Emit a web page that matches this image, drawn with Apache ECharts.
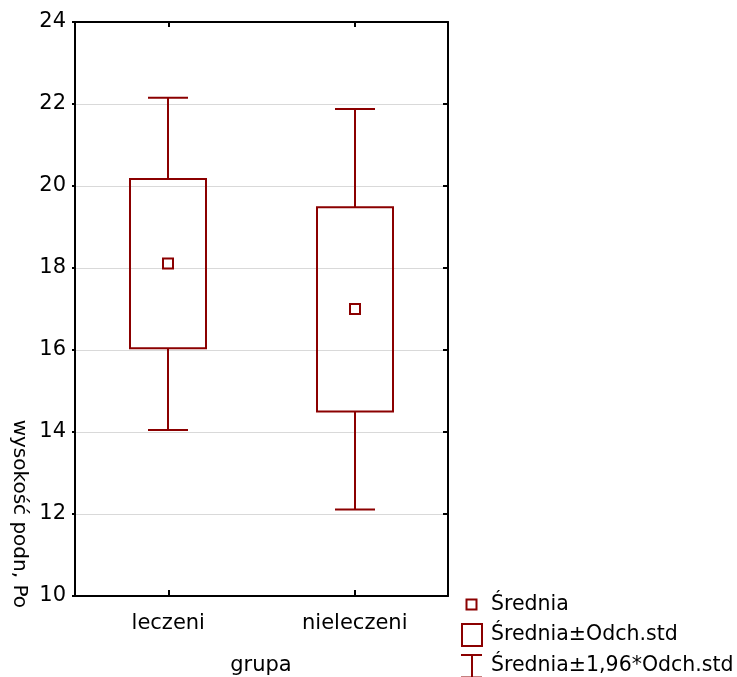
<!DOCTYPE html>
<html>
<head>
<meta charset="utf-8">
<script src="https://cdn.jsdelivr.net/npm/echarts@6/dist/echarts.min.js"></script>
<style>
  html, body { margin: 0; padding: 0; background: #ffffff; }
  #chart { width: 737px; height: 677px; }
</style>
</head>
<body>
<div id="chart"></div>
<script>
// Groups and their summary statistics (wysokość podn, Po)
const groups = ['leczeni', 'nieleczeni'];
const means = [18.11, 17.0];
const sdLow = [16.04, 14.50];    // Średnia - Odch.std
const sdHigh = [20.17, 19.48];   // Średnia + Odch.std
const ciLow = [14.05, 12.11];    // Średnia - 1,96*Odch.std
const ciHigh = [22.15, 21.88];   // Średnia + 1,96*Odch.std

const yMin = 10, yMax = 24, yStep = 2;

const FONT = 'DejaVu Sans';
const RED = '#8b0000';

const seriesData = groups.map((g, i) => [i, means[i], sdLow[i], sdHigh[i], ciLow[i], ciHigh[i]]);

function renderBox(params, api) {
  const idx = api.value(0);
  const cx = Math.round(api.coord([idx, api.value(1)])[0]);
  const yMean = api.coord([idx, api.value(1)])[1];
  const yBoxLo = api.coord([idx, api.value(2)])[1];
  const yBoxHi = api.coord([idx, api.value(3)])[1];
  const yWhLo = api.coord([idx, api.value(4)])[1];
  const yWhHi = api.coord([idx, api.value(5)])[1];
  const band = api.size([1, 0])[0];
  const boxW = Math.round(band * 0.405);
  const capW = Math.round(band * 0.215);
  const line = { stroke: RED, lineWidth: 2, fill: null };
  return {
    type: 'group',
    children: [
      { type: 'line', shape: { x1: cx, y1: yWhHi, x2: cx, y2: yBoxHi }, style: line },
      { type: 'line', shape: { x1: cx, y1: yBoxLo, x2: cx, y2: yWhLo }, style: line },
      { type: 'line', shape: { x1: cx - capW / 2, y1: yWhHi, x2: cx + capW / 2, y2: yWhHi }, style: line },
      { type: 'line', shape: { x1: cx - capW / 2, y1: yWhLo, x2: cx + capW / 2, y2: yWhLo }, style: line },
      { type: 'rect', shape: { x: cx - boxW / 2, y: yBoxHi, width: boxW, height: yBoxLo - yBoxHi },
        style: { stroke: RED, lineWidth: 2, fill: 'rgba(255,255,255,0)' } },
      { type: 'rect', shape: { x: cx - 5, y: yMean - 5, width: 10, height: 10 },
        style: { stroke: RED, lineWidth: 2, fill: '#ffffff' } }
    ]
  };
}

const chart = echarts.init(document.getElementById('chart'), null, { renderer: 'canvas' });

const axisLineStyle = { show: true, lineStyle: { color: '#000000', width: 2 } };

chart.setOption({
  backgroundColor: '#ffffff',
  animation: false,
  grid: { left: 75, top: 22, width: 373, height: 574, containLabel: false },
  xAxis: [
    {
      type: 'category', data: groups, position: 'bottom',
      axisLine: axisLineStyle,
      axisTick: { show: true, inside: true, alignWithLabel: true, length: 6, lineStyle: { color: '#000', width: 2 } },
      axisLabel: { color: '#000', fontFamily: FONT, fontSize: 21, margin: 17 },
      splitLine: { show: false }
    },
    {
      type: 'category', data: groups, position: 'top',
      axisLine: axisLineStyle,
      axisTick: { show: true, inside: true, alignWithLabel: true, length: 5, lineStyle: { color: '#000', width: 2 } },
      axisLabel: { show: false },
      splitLine: { show: false }
    }
  ],
  yAxis: [
    {
      type: 'value', min: yMin, max: yMax, interval: yStep, position: 'left',
      axisLine: axisLineStyle,
      axisTick: { show: true, inside: false, length: 3, lineStyle: { color: '#000', width: 2 } },
      axisLabel: { color: '#000', fontFamily: FONT, fontSize: 21, margin: 9 },
      splitLine: { show: true, lineStyle: { color: '#d9d9d9', width: 1 } }
    },
    {
      type: 'value', min: yMin, max: yMax, interval: yStep, position: 'right',
      axisLine: axisLineStyle,
      axisTick: { show: true, inside: true, length: 5, lineStyle: { color: '#000', width: 2 } },
      axisLabel: { show: false },
      splitLine: { show: false }
    }
  ],
  series: [
    {
      type: 'custom',
      xAxisIndex: 0, yAxisIndex: 0,
      renderItem: renderBox,
      encode: { x: 0, y: [1, 2, 3, 4, 5] },
      data: seriesData,
      z: 5
    }
  ],
  graphic: [
    // axis titles
    { type: 'text', x: 19, y: 608, rotation: -Math.PI / 2,
      style: { text: 'wysokość podn, Po', fill: '#000', font: '20px "' + FONT + '"', align: 'right', verticalAlign: 'middle' } },
    { type: 'text', x: 261, y: 666,
      style: { text: 'grupa', fill: '#000', font: '21px "' + FONT + '"', align: 'center', verticalAlign: 'middle' } },
    // legend
    { type: 'rect', shape: { x: 466.5, y: 599.5, width: 10, height: 10 }, style: { stroke: RED, lineWidth: 2, fill: '#fff' } },
    { type: 'text', x: 491, y: 605, style: { text: 'Średnia', fill: '#000', font: '20.5px "' + FONT + '"', align: 'left', verticalAlign: 'middle' } },
    { type: 'rect', shape: { x: 462, y: 624, width: 20, height: 22 }, style: { stroke: RED, lineWidth: 2, fill: '#fff' } },
    { type: 'text', x: 491, y: 635, style: { text: 'Średnia±Odch.std', fill: '#000', font: '20.5px "' + FONT + '"', align: 'left', verticalAlign: 'middle' } },
    { type: 'line', shape: { x1: 461, y1: 655, x2: 482, y2: 655 }, style: { stroke: RED, lineWidth: 2 } },
    { type: 'line', shape: { x1: 472, y1: 655, x2: 472, y2: 677 }, style: { stroke: RED, lineWidth: 2 } },
    { type: 'line', shape: { x1: 461, y1: 676.5, x2: 482, y2: 676.5 }, style: { stroke: RED, lineWidth: 1, opacity: 0.5 } },
    { type: 'text', x: 491, y: 666, style: { text: 'Średnia±1,96*Odch.std', fill: '#000', font: '20.5px "' + FONT + '"', align: 'left', verticalAlign: 'middle' } }
  ]
});
</script>
</body>
</html>
